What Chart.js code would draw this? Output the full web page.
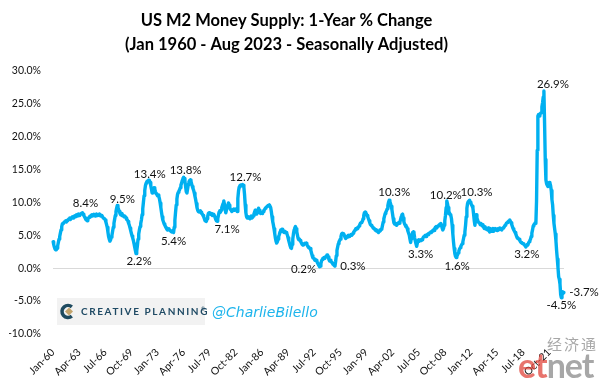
<!DOCTYPE html>
<html><head><meta charset="utf-8">
<script src="https://cdn.jsdelivr.net/npm/chart.js@4.4.0/dist/chart.umd.min.js"></script>
<style>html,body{margin:0;padding:0;background:#fff;}#wrap{width:602px;height:381px;}</style>
</head><body><div id="wrap"><canvas id="c" width="602" height="381"></canvas></div>
<script>
// ---- Data: US M2 1-year % change, monthly (Jan 1960 - Aug 2023) ----
const m2_1960s = [
 [4.0,3.6,3.2,2.9,2.8,2.8,3.0,3.4,3.9,4.4,4.8,5.3],
 [5.8,6.3,6.7,6.8,6.9,7.0,7.1,7.2,7.0,7.2,7.3,7.4],
 [7.5,7.6,7.4,7.6,7.7,7.8,7.6,7.7,7.9,7.8,8.0,8.1],
 [7.9,8.0,8.2,8.1,8.0,8.2,8.3,8.3,8.4,8.2,8.0,7.8],
 [7.6,7.4,7.3,7.2,7.4,7.6,7.7,7.9,7.8,8.0,8.1,7.9],
 [8.0,8.2,8.1,7.9,8.0,8.2,8.1,8.0,8.1,8.2,8.0,7.9],
 [7.9,8.0,7.8,7.6,7.6,7.5,7.3,7.0,6.6,6.2,5.5,4.8],
 [4.4,4.1,4.3,4.7,5.0,5.6,6.2,6.8,7.4,8.0,8.6,9.1],
 [9.5,9.2,8.9,8.6,8.3,8.1,8.3,8.0,8.1,7.9,7.8,7.9],
 [7.8,7.6,7.4,7.3,7.1,6.8,6.5,6.1,5.7,5.3,4.9,4.6]
];
const m2_1970s = [
 [4.2,3.7,3.2,2.7,2.2,2.6,3.4,4.4,5.2,5.8,6.3,6.8],
 [7.3,8.1,9.0,10.0,11.0,11.8,12.5,12.9,13.1,13.2,13.3,13.4],
 [13.3,13.0,12.5,12.0,11.4,11.5,11.9,12.2,12.0,11.6,11.3,11.2],
 [11.0,11.1,10.9,10.5,9.9,9.2,8.5,7.8,7.3,7.0,6.7,6.5],
 [6.3,6.1,5.9,5.8,5.9,6.0,5.8,5.7,5.6,5.5,5.6,5.5],
 [5.4,6.2,7.3,8.5,9.6,10.5,11.2,11.5,11.7,11.9,12.2,12.6],
 [12.9,13.3,13.6,13.8,13.6,13.2,12.4,11.6,11.4,12.0,12.7,13.1],
 [13.3,13.4,13.2,12.8,12.4,12.1,11.8,11.4,10.9,10.4,9.8,9.2],
 [8.8,8.6,8.5,8.6,8.7,8.5,8.3,8.2,8.0,7.8,7.5,7.2],
 [7.2,7.1,7.5,7.9,8.3,8.4,8.3,8.2,8.3,8.1,8.0,8.2]
];
const m2_1980s = [
 [8.1,8.0,7.7,7.4,7.2,7.1,7.5,8.0,8.5,8.7,8.5,8.8],
 [9.2,9.5,9.8,10.2,9.7,9.0,8.4,8.8,9.2,9.5,9.9,9.6],
 [9.2,8.9,8.8,8.6,8.7,8.9,9.0,8.8,8.9,9.0,8.8,8.6],
 [10.6,11.7,12.3,12.5,12.6,12.5,12.6,12.7,12.6,12.3,11.2,9.6],
 [8.4,7.8,7.6,7.7,7.8,7.6,7.5,7.7,7.9,7.6,7.7,7.9],
 [8.2,8.5,8.8,8.5,8.2,8.4,8.7,9.1,8.8,8.5,8.3,8.4],
 [8.4,8.3,8.6,8.8,8.9,9.1,9.2,9.3,9.4,9.5,9.5,9.6],
 [9.6,9.2,8.6,7.8,7.1,6.6,6.0,5.3,4.6,4.1,3.8,4.0],
 [4.4,4.8,5.1,5.5,5.8,5.7,5.9,5.6,5.5,5.4,5.6,5.5],
 [5.4,5.3,5.0,4.6,4.2,3.8,3.4,3.1,3.0,3.6,4.4,5.2]
];
const m2_1990s = [
 [5.8,6.1,6.3,6.0,5.5,5.0,4.5,4.3,4.4,4.2,4.0,3.8],
 [3.6,3.5,3.5,3.7,3.8,3.7,3.8,3.6,3.4,3.2,3.1,3.0],
 [3.0,2.7,2.3,1.9,1.6,1.5,1.4,1.2,1.3,1.2,1.0,0.8],
 [0.6,0.4,0.2,0.3,0.7,1.1,1.3,1.5,1.4,1.6,1.5,1.7],
 [1.8,2.0,2.0,1.7,1.3,1.1,1.2,1.0,0.9,0.8,0.6,0.5],
 [0.4,0.3,1.0,1.9,2.7,3.2,3.7,4.0,4.2,4.4,4.8,5.2],
 [5.3,5.3,5.2,5.0,4.7,4.5,4.6,4.7,4.9,5.0,4.8,4.9],
 [5.0,5.1,5.0,5.1,5.3,5.5,5.6,5.8,6.0,5.9,6.1,6.0],
 [6.2,6.4,6.6,6.8,6.9,7.0,7.1,7.5,8.0,8.4,8.5,8.4],
 [8.2,8.0,7.8,7.5,7.2,6.9,6.6,6.5,6.4,6.3,6.1,6.0]
];
const m2_2000s = [
 [6.0,5.8,5.7,5.8,5.6,5.5,5.4,5.6,5.8,5.7,5.9,6.0],
 [6.5,7.0,7.5,7.9,8.3,8.5,8.7,9.0,9.5,10.0,10.3,10.1],
 [9.8,9.4,8.9,8.2,7.5,6.9,6.7,6.8,6.6,6.5,6.7,6.8],
 [6.9,6.8,7.0,7.4,7.8,8.1,8.2,7.6,7.0,6.7,6.5,6.3],
 [6.3,6.0,5.6,5.3,5.0,4.4,3.9,4.5,5.0,5.4,5.5,5.3],
 [4.6,4.1,3.7,3.3,3.8,4.2,4.3,4.1,4.2,4.3,4.2,4.3],
 [4.5,4.7,4.8,4.9,5.0,4.8,5.0,5.1,5.2,5.1,5.3,5.4],
 [5.5,5.4,5.6,5.7,5.8,5.7,6.0,6.2,6.3,6.1,6.3,6.4],
 [6.5,6.6,6.7,6.8,6.6,6.1,5.8,6.0,6.5,7.2,8.0,9.2],
 [10.2,9.8,9.2,8.3,8.4,8.1,8.0,7.5,6.5,5.2,4.0,3.0]
];
const m2_2010s = [
 [2.2,1.8,1.6,1.8,2.0,2.3,2.6,2.9,3.1,3.3,3.5,3.7],
 [4.0,4.5,5.0,5.5,6.5,7.8,9.1,9.8,10.1,10.2,10.3,10.0],
 [9.8,9.6,9.4,9.1,8.2,7.2,6.5,7.4,8.1,7.6,7.3,7.0],
 [7.0,6.8,6.6,6.8,6.5,6.4,6.6,6.2,6.0,6.3,6.1,5.9],
 [6.0,5.8,6.1,5.7,5.5,6.0,5.8,5.6,5.8,6.0,5.6,5.9],
 [6.0,5.8,5.9,5.7,6.0,5.8,5.9,6.1,5.9,6.0,5.8,6.0],
 [6.1,6.2,6.3,6.5,6.6,6.8,6.9,7.0,7.1,7.2,7.3,7.1],
 [6.9,6.6,6.3,6.0,5.8,5.6,5.4,5.2,4.9,4.6,4.5,4.5],
 [4.4,4.2,4.0,3.9,3.8,3.8,3.7,3.6,3.5,3.4,3.2,3.4],
 [3.6,3.5,3.8,4.0,4.2,4.4,4.8,5.3,5.8,6.4,6.6,6.7]
];
const m2_2020s = [
 [6.9,6.8,10.2,17.9,23.1,23.3,23.1,23.3,23.5,23.6,24.5,25.1],
 [26.0,26.9,22.0,16.5,13.4,12.8,12.6,12.4,12.8,13.0,12.9,12.5],
 [11.8,10.4,9.6,8.0,6.8,6.0,5.2,4.1,2.6,1.4,0.1,-1.3],
 [-1.7,-2.4,-4.0,-4.5,-4.0,-3.6,-3.8,-3.7]
];
const tickLabels = ['Jan-60','Apr-63','Jul-66','Oct-69','Jan-73','Apr-76','Jul-79','Oct-82','Jan-86','Apr-89',
  'Jul-92','Oct-95','Jan-99','Apr-02','Jul-05','Oct-08','Jan-12','Apr-15','Jul-18','Oct-21'];
const yTicks = [-10,-5,0,5,10,15,20,25,30];
// indices of months that carry a value label
const labelIdx = [44,96,124,143,180,195,245,283,398,421,502,543,588,602,622,706,733,759,763];

// ---- build series & categories ----
const series = [].concat(...m2_1960s, ...m2_1970s, ...m2_1980s, ...m2_1990s, ...m2_2000s, ...m2_2010s, ...m2_2020s);
const monthNames = ['Jan','Feb','Mar','Apr','May','Jun','Jul','Aug','Sep','Oct','Nov','Dec'];
const categories = [];
for (let y = 1960; y <= 2023; y++) for (let m = 0; m < 12; m++) {
  if (categories.length >= series.length) break;
  categories.push(monthNames[m] + '-' + String(y % 100).padStart(2, '0'));
}

// label offsets (style)
const labelOffsets = {44:[3,-9],96:[5,-6],124:[3,8],143:[1,-6],180:[0,9],195:[2,-7],245:[10,8],283:[3,-7],
  398:[-16,2],421:[18,0],502:[5,-8],543:[4,8],588:[-1,-6],602:[1,9],622:[7,-8],706:[1,7],733:[9,-7],759:[0,8],763:[20,0]};

const FONT = 'Lato';

const valueLabels = {
  id: 'valueLabels',
  afterDatasetsDraw(chart) {
    const ctx = chart.ctx, meta = chart.getDatasetMeta(0);
    ctx.save();
    ctx.font = '11.5px ' + FONT;
    ctx.fillStyle = '#111';
    ctx.textAlign = 'center';
    ctx.textBaseline = 'middle';
    labelIdx.forEach(i => {
      const p = meta.data[i];
      const off = labelOffsets[i] || [0, -8];
      ctx.fillText(series[i].toFixed(1) + '%', p.x + off[0], p.y + off[1]);
    });
    ctx.restore();
  }
};

const branding = {
  id: 'branding',
  afterDraw(chart) {
    const ctx = chart.ctx;
    ctx.save();
    // Creative Planning box
    ctx.fillStyle = '#f2f2f2';
    ctx.fillRect(57, 298, 148, 27);
    ctx.strokeStyle = '#1e4a5f';
    ctx.lineWidth = 3.5;
    ctx.beginPath();
    ctx.arc(68, 311.5, 6, 0.28 * Math.PI, 1.72 * Math.PI);
    ctx.stroke();
    ctx.fillStyle = '#c2a36b';
    ctx.beginPath();
    ctx.moveTo(69, 307.5); ctx.lineTo(73, 311.5); ctx.lineTo(69, 315.5); ctx.lineTo(65, 311.5); ctx.closePath();
    ctx.fill();
    ctx.fillStyle = '#1f4a64';
    ctx.font = 'bold 10px ' + FONT;
    ctx.textBaseline = 'middle';
    ctx.textAlign = 'left';
    try { ctx.letterSpacing = '1.6px'; } catch (e) {}
    ctx.fillText('CREATIVE PLANNING', 81, 312);
    try { ctx.letterSpacing = '0px'; } catch (e) {}
    ctx.font = '5px ' + FONT;
    ctx.fillText('®', 201, 309);
    // handle
    ctx.fillStyle = '#1cb4ec';
    ctx.font = 'italic 14px "DejaVu Sans"';
    ctx.fillText('@CharlieBilello', 212, 313);
    // etnet watermark
    ctx.globalAlpha = 0.75;
    ctx.fillStyle = '#8a8a8a';
    ctx.font = '15px "Noto Sans CJK SC"';
    try { ctx.letterSpacing = '2px'; } catch (e) {}
    ctx.fillText('经济通', 547, 344);
    try { ctx.letterSpacing = '-1px'; } catch (e) {}
    ctx.font = 'bold 34px ' + FONT;
    ctx.textBaseline = 'alphabetic';
    ctx.fillStyle = '#e0463c';
    ctx.fillText('et', 518, 378);
    const w = ctx.measureText('et').width;
    ctx.fillStyle = '#8a8a8a';
    ctx.fillText('net', 518 + w, 378);
    ctx.restore();
  }
};

new Chart(document.getElementById('c'), {
  type: 'line',
  data: {
    labels: categories,
    datasets: [{
      data: series,
      borderColor: '#00B0F0',
      borderWidth: 3.4,
      pointRadius: 0,
      tension: 0,
      borderJoinStyle: 'round',
      borderCapStyle: 'round',
      fill: false
    }]
  },
  options: {
    responsive: false,
    animation: false,
    devicePixelRatio: 1,
    layout: { padding: { left: 9, right: 38, top: 0, bottom: 0 } },
    plugins: {
      legend: { display: false },
      tooltip: { enabled: false },
      title: {
        display: true,
        text: ['US M2 Money Supply: 1-Year % Change', '(Jan 1960 - Aug 2023 - Seasonally Adjusted)'],
        color: '#000',
        font: { family: FONT, size: 16.5, weight: 'bold', lineHeight: 1.5 },
        padding: { top: 8, bottom: 13 }
      }
    },
    scales: {
      x: {
        type: 'category',
        grid: { display: false },
        border: { display: false },
        ticks: {
          autoSkip: false,
          maxRotation: 45,
          minRotation: 45,
          padding: 4,
          color: '#111',
          font: { family: FONT, size: 10.5 },
          callback: function (v, i) {
            const lab = categories[i];
            return tickLabels.indexOf(lab) >= 0 ? lab : null;
          }
        },
        afterFit: s => { s.height = 47; }
      },
      y: {
        min: yTicks[0],
        max: yTicks[yTicks.length - 1],
        afterBuildTicks: s => { s.ticks = yTicks.map(v => ({ value: v })); },
        grid: {
          drawTicks: false,
          color: c => (c.tick && c.tick.value === 0) ? '#d9d9d9' : 'rgba(0,0,0,0)',
          lineWidth: 1
        },
        border: { display: false },
        ticks: {
          padding: 12,
          color: '#111',
          font: { family: FONT, size: 10.5 },
          callback: v => Number(v).toFixed(1) + '%'
        },
        afterFit: s => { s.width = 44; }
      }
    }
  },
  plugins: [valueLabels, branding]
});
</script></body></html>
